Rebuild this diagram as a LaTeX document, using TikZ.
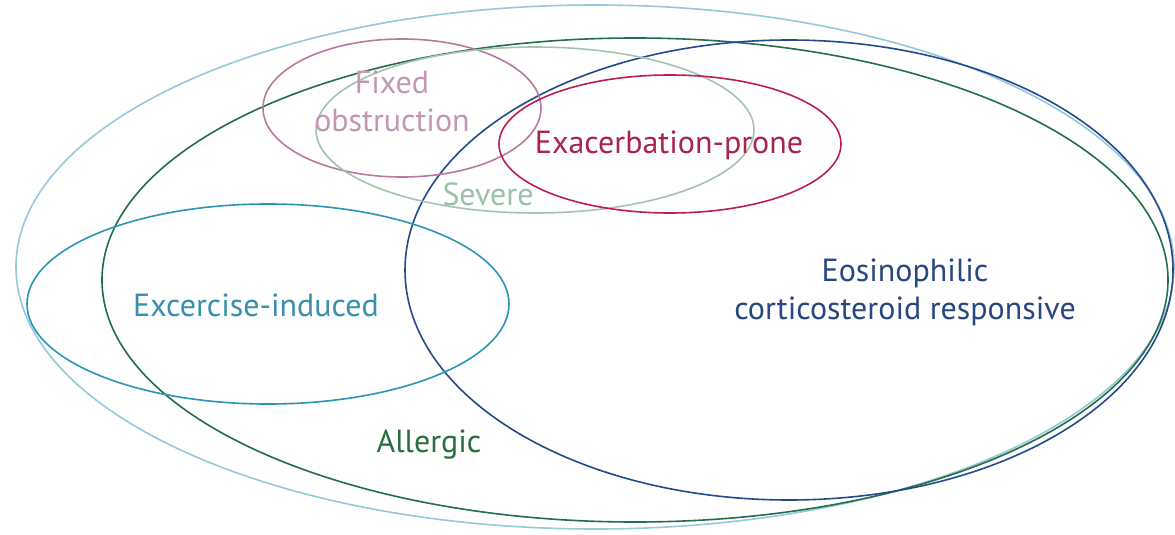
\documentclass[tikz,border=0pt]{standalone}
\usepackage{fontspec}
\setmainfont{PT Sans}
\definecolor{outerc}{RGB}{150,200,220}
\definecolor{allergc}{RGB}{35,110,75}
\definecolor{eosc}{RGB}{35,75,140}
\definecolor{exerc}{RGB}{40,150,180}
\definecolor{fixc}{RGB}{185,120,160}
\definecolor{sevc}{RGB}{165,195,175}
\definecolor{exac}{RGB}{190,30,75}
\definecolor{fixt}{RGB}{195,150,180}
\definecolor{exat}{RGB}{170,35,75}
\definecolor{sevt}{RGB}{155,192,172}
\definecolor{exert}{RGB}{55,145,170}
\definecolor{allergt}{RGB}{40,110,65}
\definecolor{eost}{RGB}{40,70,130}
\begin{document}
\begin{tikzpicture}[x=1pt,y=-1pt,
  ring/.style={line width=1.6pt},
  lbl/.style={inner sep=0pt,align=center,font=\fontsize{32}{38}\selectfont}]
\useasboundingbox (0,0) rectangle (1175,535);
\fill[white] (0,0) rectangle (1175,535);
% sets
\draw[ring,outerc] (595,267) ellipse [x radius=579pt,y radius=262pt];
\draw[ring,allergc] (635,280) ellipse [x radius=533pt,y radius=242pt];
\draw[ring,eosc] (789,270) ellipse [x radius=384pt,y radius=230pt];
\draw[ring,exerc] (268,304) ellipse [x radius=241pt,y radius=100pt];
\draw[ring,fixc] (402,108) ellipse [x radius=139pt,y radius=69pt];
\draw[ring,sevc] (535,130) ellipse [x radius=219pt,y radius=83pt];
\draw[ring,exac] (670,144) ellipse [x radius=171pt,y radius=69pt];
% labels
\node[lbl,text=fixt] (fixed) at (392,101) {Fixed\\obstruction};
\node[lbl,text=exat] (exacerb) at (669,145) {Exacerbation-prone};
\node[lbl,text=sevt] (severe) at (488,194) {Severe};
\node[lbl,text=exert] (exercise) at (256,305) {Excercise-induced};
\node[lbl,text=allergt] (allergic) at (429,445) {Allergic};
\node[lbl,text=eost] (eosin) at (905,292) {Eosinophilic\\corticosteroid responsive};
\end{tikzpicture}
\end{document}
